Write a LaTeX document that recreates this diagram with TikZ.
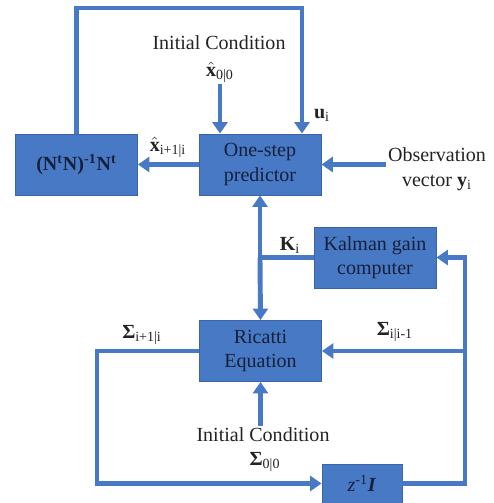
\documentclass[tikz,border=0pt]{standalone}
\usepackage{fontspec}
\setmainfont{Liberation Serif}
\usetikzlibrary{arrows.meta}
\definecolor{boxblue}{RGB}{72,121,196}
\definecolor{boxedge}{RGB}{60,100,170}
\definecolor{boxtext}{RGB}{22,32,60}
\definecolor{labtext}{RGB}{35,35,35}
\newcommand{\lbl}[2]{\textbf{#1}\textsubscript{#2}}

\begin{document}
\begin{tikzpicture}[
    >={Triangle[width=8.5pt,length=6.5pt]},
    blk/.style={rectangle,draw=boxedge,fill=boxblue,line width=0.5pt,minimum width=2.44cm,minimum height=1.22cm,inner sep=1pt,align=center,text=boxtext},
    sig/.style={draw=boxblue,line width=2.8pt},
    lab/.style={text=labtext,inner sep=1pt,align=center},
    every node/.style={font=\fontsize{11.4}{14}\selectfont}]
  \useasboundingbox (0,0) rectangle (9.88,-10.06);
  % ---- blocks ----
  \node[blk] (nt)   at (1.53,-3.29) {\textbf{(N\textsuperscript{t}N)\textsuperscript{-1}N\textsuperscript{t}}};
  \node[blk] (pred) at (5.20,-3.29) {One-step\\predictor};
  \node[blk] (kal)  at (7.50,-5.15) {Kalman gain\\computer};
  \node[blk] (ric)  at (5.21,-7.02) {Ricatti\\Equation};
  \node[blk,minimum width=1.6cm,minimum height=0.78cm] (zinv) at (7.24,-9.67) {\textit{z}\textsuperscript{-1}\textbf{\textit{I}}};
  % ---- labels ----
  \node[lab] (ic1) at (4.38,-0.86) {Initial Condition};
  \node[lab] (x0)  at (4.40,-1.44) {$\hat{\mathbf{x}}$\textsubscript{0|0}};
  \node[lab] (ui)  at (6.44,-2.30) {\lbl{u}{i}};
  \node[lab] (xi)  at (3.36,-2.94) {$\hat{\mathbf{x}}$\textsubscript{i+1|i}};
  \node[lab] (obs) at (8.74,-3.39) {Observation\\vector \lbl{y}{i}};
  \node[lab] (ki)  at (5.80,-4.90) {\lbl{K}{i}};
  \node[lab] (sa)  at (2.84,-6.70) {\lbl{Σ}{i+1|i}};
  \node[lab] (sb)  at (7.90,-6.64) {\lbl{Σ}{i|i-1}};
  \node[lab] (ic2) at (5.26,-8.70) {Initial Condition};
  \node[lab] (s0)  at (5.30,-9.24) {\lbl{Σ}{0|0}};
  % ---- corner points ----
  \coordinate (ttop) at (6.04,-0.16);                 % top feedback
  \coordinate (kj)   at (pred.south |- kal.west);      % gain junction
  \coordinate (lft)  at (1.94,-7.02);                  % left loop
  \coordinate (rgt)  at (9.30,-9.67);                  % right loop
  % ---- connectors ----
  \draw[sig,->] (nt.north) |- (ttop) -- (ttop |- pred.north);
  \draw[sig,->] (x0.south) -- (x0.south |- pred.north);
  \draw[sig,->] (pred.west) -- (nt.east);
  \draw[sig,->] (obs.west |- pred.east) -- (pred.east);
  \draw[sig] (kal.west) -- (kj);
  \draw[sig,->] (kj) -- (pred.south);
  \draw[sig,->] (kj) -- (ric.north);
  \draw[sig,->] (ric.south |- ic2.north) -- (ric.south);
  \draw[sig,->] (ric.west) -- (lft) |- (zinv.west);
  \draw[sig,->] (zinv.east) -- (rgt) |- (kal.east);
  \draw[sig,->] (rgt |- ric.east) -- (ric.east);
\end{tikzpicture}
\end{document}
